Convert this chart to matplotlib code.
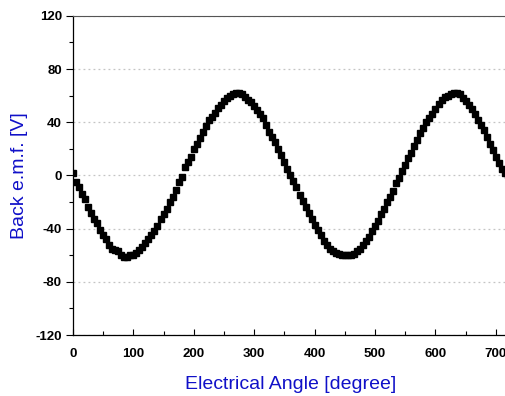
import matplotlib
matplotlib.use("Agg")
import matplotlib.pyplot as plt
from matplotlib.ticker import MultipleLocator

# angulo electrico cada 5 grados, 0..720
angle = list(range(0, 725, 5))
emf = [
    2, -5, -9, -14, -18, -24, -28, -33, -36, -41, -45, -48, -52, -55, -56, -57,
    -60, -61, -61, -60, -60, -58, -56, -54, -51, -48, -45, -42, -38, -33, -29,
    -25, -20, -16, -11, -5, -1,
    6, 10, 14, 20, 24, 28, 33, 37, 42, 44, 47, 51, 53, 56, 58, 60, 61, 62, 62,
    61, 59, 57, 55, 52, 49, 46, 43, 38, 33, 29, 25, 20, 15, 10, 5, 0,
    -4, -9, -15, -19, -24, -28, -33, -37, -41, -45, -49, -52, -55, -57, -58,
    -59, -60, -60, -60, -60, -59, -57, -55, -52, -49, -46, -42, -38, -34, -29,
    -25, -20, -16, -12, -6, -2,
    3, 8, 13, 17, 22, 27, 32, 36, 40, 43, 46, 50, 54, 57, 59, 60, 61, 62, 62,
    61, 58, 56, 53, 50, 46, 42, 38, 34, 29, 24, 19, 14, 9, 5, 2, 0,
]

plt.rcParams["font.family"] = ["Liberation Sans", "DejaVu Sans"]
plt.rcParams["axes.unicode_minus"] = False

fig = plt.figure(figsize=(5.06, 3.96), dpi=100)
ax = fig.add_axes([0.144, 0.154, 0.86, 0.806])

ax.plot(angle, emf, ls="none", marker="s", ms=4.6, color="black", zorder=3)

ax.set_xlim(0, 720)
ax.set_ylim(-120, 120)
ax.xaxis.set_major_locator(MultipleLocator(100))
ax.xaxis.set_minor_locator(MultipleLocator(50))
ax.yaxis.set_major_locator(MultipleLocator(40))
ax.yaxis.set_minor_locator(MultipleLocator(20))

ax.yaxis.grid(True, which="major", ls=(0, (1.5, 2.5)), color="#c4c4c4", lw=0.9)
ax.set_axisbelow(True)

ax.tick_params(axis="y", which="major", direction="out", length=5, width=0.8,
               labelsize=9.5, pad=3)
ax.tick_params(axis="y", which="minor", direction="out", length=3, width=0.8)
ax.tick_params(axis="x", which="major", direction="in", length=4, width=0.8,
               labelsize=9.5, pad=9)
ax.tick_params(axis="x", which="minor", direction="in", length=3, width=0.8)
for lab in ax.get_xticklabels() + ax.get_yticklabels():
    lab.set_fontweight("bold")

ax.spines["top"].set_color("#555555")
ax.spines["right"].set_visible(False)
for s in ("left", "bottom"):
    ax.spines[s].set_linewidth(0.9)

ax.set_xlabel("Electrical Angle [degree]", fontsize=14, color="#1010c8",
              labelpad=12)
ax.set_ylabel("Back e.m.f. [V]", fontsize=14, color="#1010c8", labelpad=5)

fig.savefig("out.png", dpi=100)
